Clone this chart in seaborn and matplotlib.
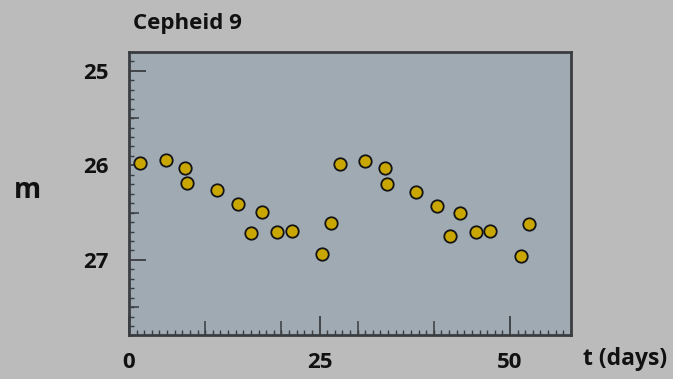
import matplotlib
matplotlib.use("Agg")
import matplotlib.pyplot as plt
from matplotlib.ticker import MultipleLocator, FixedLocator, NullFormatter
import seaborn as sns
import pandas as pd

# Light curve of Cepheid 9: observation time (days) and apparent magnitude
t_days = [1.4, 4.8, 7.4, 7.6, 11.6, 14.3, 16.0, 17.5, 19.4, 21.4, 25.3, 26.5,
          27.7, 31.0, 33.6, 33.9, 37.6, 40.4, 42.1, 43.5, 45.6, 47.4, 51.5, 52.5]
magnitude = [25.97, 25.94, 26.03, 26.19, 26.26, 26.41, 26.72, 26.49, 26.70, 26.69, 26.94, 26.61,
             25.98, 25.95, 26.03, 26.20, 26.28, 26.43, 26.75, 26.50, 26.71, 26.69, 26.96, 26.62]

x_ticks = [0, 25, 50]
y_ticks = [25, 26, 27]
title = "Cepheid 9"
x_label = "t (days)"
y_label = "m"

df = pd.DataFrame({"t": t_days, "m": magnitude})

FIG_BG = "#bbbbbb"
AX_BG = "#9faab3"
DOT = "#caa700"
INK = "#111111"
SPINE = "#3a3d40"

plt.rcParams["font.family"] = ["Open Sans", "DejaVu Sans"]
plt.rcParams["font.weight"] = "bold"

fig = plt.figure(figsize=(6.73, 3.79), dpi=100, facecolor=FIG_BG)
ax = fig.add_axes([0.1917, 0.1148, 0.6567, 0.748])
ax.set_facecolor(AX_BG)

sns.scatterplot(data=df, x="t", y="m", ax=ax, s=80, color=DOT,
                edgecolor="#141414", linewidth=1.3, zorder=3, legend=False)

ax.set_xlim(0, 58)
ax.set_ylim(27.8, 24.8)

ax.xaxis.set_major_locator(FixedLocator(x_ticks))
ax.xaxis.set_minor_locator(MultipleLocator(1))
ax.yaxis.set_major_locator(FixedLocator(y_ticks))
ax.yaxis.set_minor_locator(MultipleLocator(0.1))
ax.set_xticklabels([str(v) for v in x_ticks])
ax.set_yticklabels([str(v) for v in y_ticks])

ax.tick_params(axis="both", which="both", direction="in", color=SPINE,
               top=False, right=False)
ax.tick_params(axis="x", which="major", length=14, width=1.3, pad=12,
               labelsize=16, labelcolor=INK)
ax.tick_params(axis="y", which="major", length=12, width=1.3, pad=15,
               labelsize=16, labelcolor=INK)
ax.tick_params(axis="both", which="minor", length=3.5, width=1.0)

# intermediate ticks every 10 days and every half magnitude
sec_x = ax.secondary_xaxis("bottom")
sec_x.xaxis.set_major_locator(FixedLocator([10, 20, 30, 40]))
sec_x.xaxis.set_major_formatter(NullFormatter())
sec_x.tick_params(direction="in", length=10, width=1.1, color=SPINE)
sec_x.spines["bottom"].set_visible(False)

sec_y = ax.secondary_yaxis("left")
sec_y.yaxis.set_major_locator(FixedLocator([25.5, 26.5, 27.5]))
sec_y.yaxis.set_major_formatter(NullFormatter())
sec_y.tick_params(direction="in", length=7, width=1.1, color=SPINE)
sec_y.spines["left"].set_visible(False)

for sp in ax.spines.values():
    sp.set_color(SPINE)
    sp.set_linewidth(2.0)

ax.set_xlabel("")
ax.set_ylabel("")

fig.text(0.197, 0.937, title, ha="left", va="center", fontsize=16,
         fontweight="bold", color=INK)
fig.text(0.041, 0.497, y_label, ha="center", va="center", fontsize=20,
         fontweight="bold", color=INK)
fig.text(0.866, 0.052, x_label, ha="left", va="center", fontsize=16.5,
         fontweight="bold", color=INK)

fig.savefig("out.png", dpi=100, facecolor=FIG_BG)
